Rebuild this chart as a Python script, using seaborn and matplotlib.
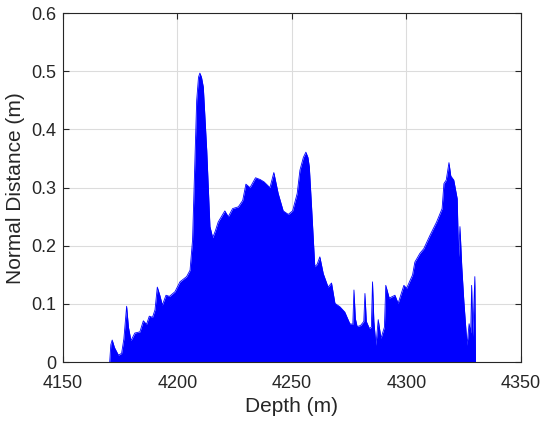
import numpy as np
import pandas as pd
import matplotlib
matplotlib.use('Agg')
import matplotlib.pyplot as plt
import seaborn as sns

# Profile
depth = [4170.4, 4170.9, 4171.5, 4172.5, 4174.2, 4175.6, 4176.6, 4177.8, 4178.6, 4179.7,
         4181.4, 4183.6, 4185.1, 4186.5, 4187.7, 4189.1, 4190.2, 4191.2, 4192.3, 4193.4,
         4195.0, 4196.5, 4198.9, 4201.1, 4204.0, 4205.5, 4206.6, 4207.5, 4208.4, 4209.2,
         4209.8, 4210.5, 4211.3, 4212.8, 4214.2, 4215.4, 4216.5, 4217.8, 4220.7, 4222.2,
         4224.1, 4226.6, 4228.5, 4229.9, 4231.7, 4234.1, 4236.1, 4237.8, 4240.4, 4242.1,
         4244.0, 4246.2, 4248.4, 4250.3, 4252.3, 4253.5, 4255.0, 4256.1, 4257.0, 4257.6,
         4258.6, 4260.0, 4261.0, 4262.2, 4263.7, 4265.8, 4267.3, 4268.8, 4271.0, 4273.1,
         4275.3, 4276.6, 4277.1, 4277.7, 4278.5, 4280.0, 4281.4, 4281.9, 4282.5, 4283.8,
         4284.7, 4285.2, 4285.8, 4286.7, 4287.7, 4288.9, 4290.4, 4291.0, 4292.5, 4295.0,
         4296.4, 4298.9, 4300.1, 4302.7, 4303.7, 4305.9, 4307.6, 4310.3, 4313.2, 4315.6,
         4316.4, 4317.4, 4318.6, 4319.4, 4320.7, 4322.2, 4322.8, 4323.4, 4324.2, 4325.1,
         4326.5, 4327.4, 4328.1, 4328.5, 4329.0, 4329.9, 4330.2]
distance = [0.000, 0.030, 0.038, 0.025, 0.012, 0.015, 0.040, 0.096, 0.060, 0.037,
            0.050, 0.052, 0.071, 0.065, 0.079, 0.077, 0.090, 0.129, 0.115, 0.098,
            0.115, 0.113, 0.121, 0.138, 0.147, 0.158, 0.210, 0.330, 0.450, 0.490,
            0.497, 0.490, 0.473, 0.364, 0.233, 0.214, 0.225, 0.241, 0.260, 0.250,
            0.264, 0.267, 0.278, 0.306, 0.300, 0.317, 0.314, 0.310, 0.300, 0.326,
            0.290, 0.260, 0.254, 0.260, 0.290, 0.330, 0.352, 0.361, 0.352, 0.336,
            0.266, 0.164, 0.168, 0.181, 0.152, 0.129, 0.136, 0.101, 0.095, 0.086,
            0.066, 0.065, 0.124, 0.075, 0.061, 0.063, 0.070, 0.118, 0.070, 0.058,
            0.060, 0.138, 0.070, 0.029, 0.073, 0.041, 0.060, 0.132, 0.110, 0.115,
            0.101, 0.132, 0.127, 0.150, 0.172, 0.187, 0.195, 0.218, 0.241, 0.264,
            0.307, 0.313, 0.343, 0.320, 0.313, 0.281, 0.181, 0.233, 0.164, 0.105,
            0.029, 0.066, 0.050, 0.132, 0.044, 0.147, 0.000]

x_ticks = [4150, 4200, 4250, 4300, 4350]
y_ticks = [0, 0.1, 0.2, 0.3, 0.4, 0.5, 0.6]
y_tick_labels = ['0', '0.1', '0.2', '0.3', '0.4', '0.5', '0.6']

df = pd.DataFrame({'Depth': depth, 'Distance': distance})

sns.set_style('whitegrid')
plt.rcParams['font.family'] = ['Liberation Sans', 'DejaVu Sans']

fig = plt.figure(figsize=(5.5, 4.25), dpi=100)
ax = fig.add_axes([0.1145, 0.148, 0.8325, 0.821])

ax.fill_between(df['Depth'], df['Distance'], 0, color='#0000FF', linewidth=0, zorder=2)
sns.lineplot(data=df, x='Depth', y='Distance', ax=ax, color='#0000FF',
             linewidth=0.6, zorder=3)

ax.set_xlim(4150, 4350)
ax.set_ylim(0, 0.6)
ax.set_xticks(x_ticks)
ax.set_yticks(y_ticks)
ax.set_yticklabels(y_tick_labels)
ax.set_xlabel('Depth (m)', fontsize=15, color='#262626', labelpad=4)
ax.set_ylabel('Normal Distance (m)', fontsize=15, color='#262626', labelpad=4)

ax.grid(True, color='#dcdcdc', linewidth=0.8)
ax.set_axisbelow(True)
for s in ax.spines.values():
    s.set_visible(True)
    s.set_color('#262626')
    s.set_linewidth(0.8)
ax.tick_params(direction='in', length=4, width=0.8, colors='#262626',
               labelsize=13, top=True, right=True, bottom=True, left=True)
ax.tick_params(axis='x', pad=9)
ax.tick_params(axis='y', pad=5)

fig.savefig('out.png', dpi=100)
